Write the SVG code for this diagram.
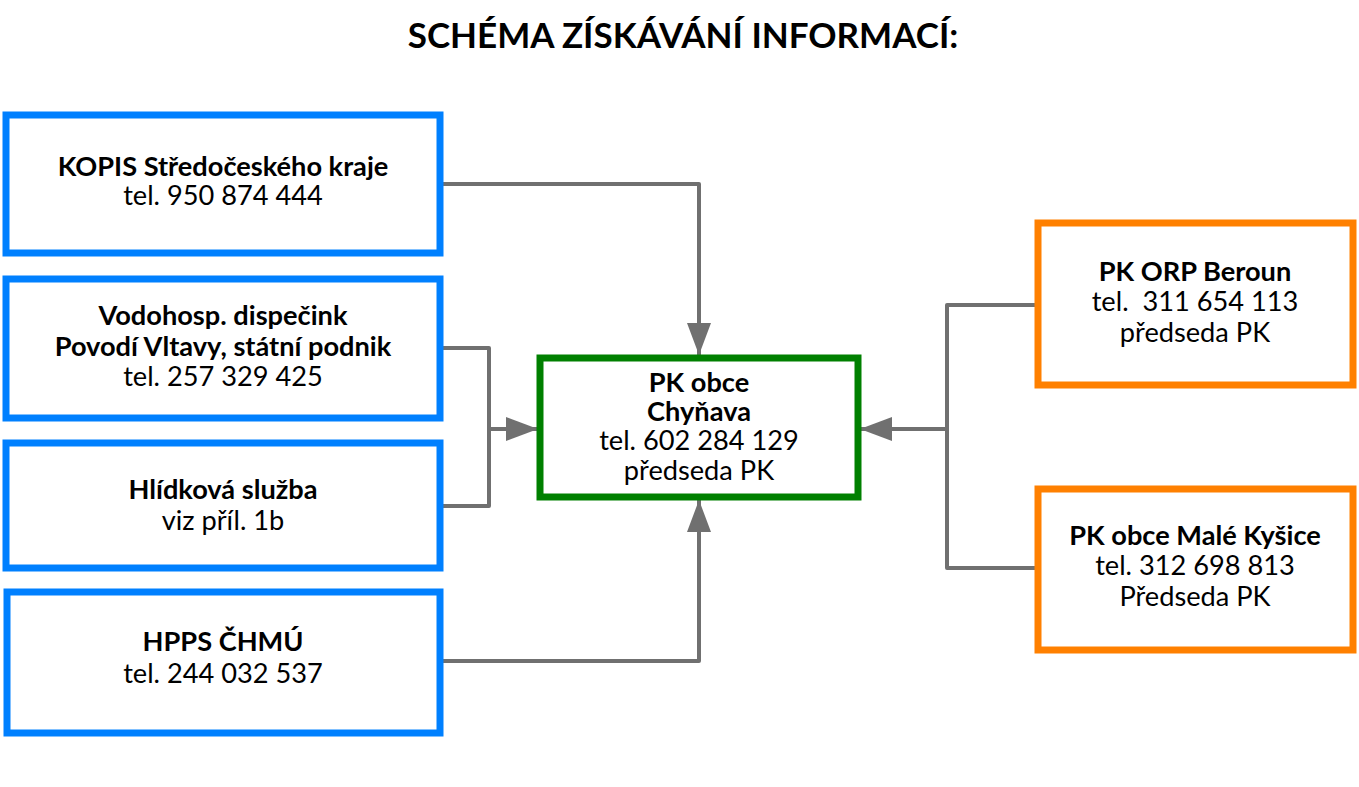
<svg xmlns="http://www.w3.org/2000/svg" width="1359" height="787" viewBox="0 0 1359 787">
<defs>
<style>
text{font-family:Lato,"Open Sans","Liberation Sans",sans-serif;text-anchor:middle;fill:#000;white-space:pre}
.t{font-size:35px;font-weight:bold}
.b{font-size:27.2px;font-weight:bold}
.n{font-size:27.2px}
.blue{fill:#fff;stroke:#0080FF;stroke-width:7}
.green{fill:#fff;stroke:#008000;stroke-width:7}
.orange{fill:#fff;stroke:#FF8000;stroke-width:7}
.c{fill:none;stroke:#707070;stroke-width:4;stroke-linejoin:round}
</style>
<marker id="ah" viewBox="0 0 32 24" refX="32" refY="12" markerWidth="32" markerHeight="24" markerUnits="userSpaceOnUse" orient="auto">
<path d="M0,0 L32,12 L0,24 Z" fill="#707070"/>
</marker>
</defs>
<rect width="1359" height="787" fill="#fff"/>
<text class="t" x="683" y="48">SCHÉMA ZÍSKÁVÁNÍ INFORMACÍ:</text>
<g id="connectors">
<path class="c" d="M441,184 H699 V355" marker-end="url(#ah)"/>
<path class="c" d="M441,348 H489 V506 H441"/>
<path class="c" d="M489,429 H538" marker-end="url(#ah)"/>
<path class="c" d="M441,661 H699 V500" marker-end="url(#ah)"/>
<path class="c" d="M1037,305 H947 V568 H1037"/>
<path class="c" d="M947,429 H860" marker-end="url(#ah)"/>
</g>
<g id="kopis">
<rect class="blue" x="6" y="115" width="434" height="138"/>
<text class="b" x="223" y="176">KOPIS Středočeského kraje</text>
<text class="n" x="223" y="205">tel. 950 874 444</text>
</g>
<g id="vodohosp">
<rect class="blue" x="6" y="279" width="434" height="139"/>
<text class="b" x="223" y="325">Vodohosp. dispečink</text>
<text class="b" x="223" y="356">Povodí Vltavy, státní podnik</text>
<text class="n" x="223" y="386">tel. 257 329 425</text>
</g>
<g id="hlidkova">
<rect class="blue" x="6" y="443" width="434" height="125"/>
<text class="b" x="223" y="499">Hlídková služba</text>
<text class="n" x="223" y="530">viz příl. 1b</text>
</g>
<g id="hpps">
<rect class="blue" x="7" y="592" width="433" height="141"/>
<text class="b" x="223" y="651">HPPS ČHMÚ</text>
<text class="n" x="223" y="683">tel. 244 032 537</text>
</g>
<g id="chynava">
<rect class="green" x="540" y="358" width="318" height="139"/>
<text class="b" x="699" y="392">PK obce</text>
<text class="b" x="699" y="421">Chyňava</text>
<text class="n" x="699" y="450">tel. 602 284 129</text>
<text class="n" x="699" y="480">předseda PK</text>
</g>
<g id="beroun">
<rect class="orange" x="1038" y="223" width="315" height="162"/>
<text class="b" x="1195" y="281">PK ORP Beroun</text>
<text class="n" x="1195" y="311">tel.  311 654 113</text>
<text class="n" x="1195" y="342">předseda PK</text>
</g>
<g id="kysice">
<rect class="orange" x="1038" y="489" width="315" height="161"/>
<text class="b" x="1195" y="545">PK obce Malé Kyšice</text>
<text class="n" x="1195" y="575">tel. 312 698 813</text>
<text class="n" x="1195" y="606">Předseda PK</text>
</g>
</svg>
